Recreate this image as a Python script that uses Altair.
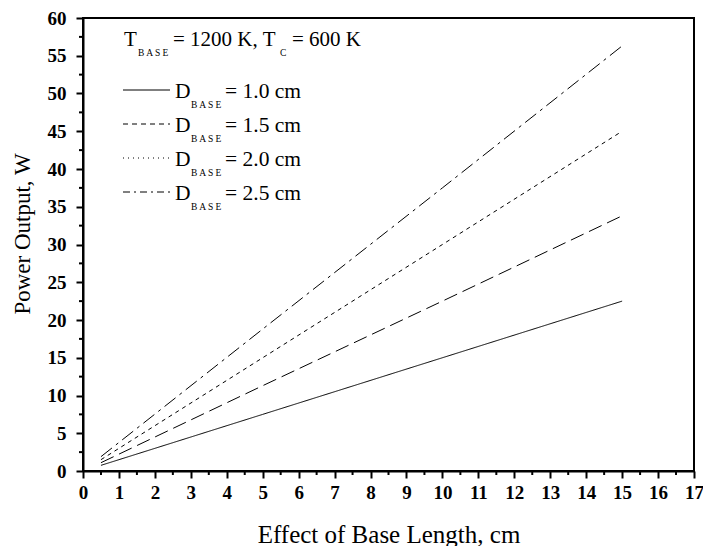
import altair as alt
import pandas as pd

# ---- data ----
lengths = [0.5, 5.0, 10.0, 15.0]
p_d10 = [0.75, 7.5, 15.0, 22.5]
p_d15 = [1.1, 11.3, 22.5, 33.8]
p_d20 = [1.5, 15.0, 30.0, 45.0]
p_d25 = [1.9, 18.8, 37.5, 56.3]
series_names = ["1.0 cm", "1.5 cm", "2.0 cm", "2.5 cm"]

x_ticks = [0, 1, 2, 3, 4, 5, 6, 7, 8, 9, 10, 11, 12, 13, 14, 15, 16, 17]
y_ticks = [0, 5, 10, 15, 20, 25, 30, 35, 40, 45, 50, 55, 60]
x_minor = [0.5, 1.5, 2.5, 3.5, 4.5, 5.5, 6.5, 7.5, 8.5, 9.5, 10.5, 11.5,
           12.5, 13.5, 14.5, 15.5, 16.5]
y_minor = [2.5, 7.5, 12.5, 17.5, 22.5, 27.5, 32.5, 37.5, 42.5, 47.5, 52.5, 57.5]

W, H = 611, 453
FONT = "Liberation Serif"

rows = []
for name, vals in zip(series_names, [p_d10, p_d15, p_d20, p_d25]):
    for L, P in zip(lengths, vals):
        rows.append({"series": name, "L": L, "P": P})
df = pd.DataFrame(rows)

x_scale = alt.Scale(domain=[0, 17], nice=False, zero=False)
y_scale = alt.Scale(domain=[0, 60], nice=False)

plot_dash = [[1, 0], [14, 6], [4, 4], [14, 5, 3, 5]]
legend_dash = [[1, 0], [5, 4], [1, 4], [7, 4, 2, 4]]

common_axis = dict(
    grid=False, labelFont=FONT, labelFontSize=19, labelFontWeight="bold",
    labelColor="black", tickSize=7, tickWidth=2, tickColor="black",
    domainColor="black", domainWidth=2, titleFont=FONT,
    titleFontWeight="normal", titleColor="black", labelFlush=False,
    labelOverlap=False,
)
x_axis = alt.Axis(values=x_ticks, title="Effect of Base Length, cm",
                  labelPadding=5, titleY=71, titleBaseline="alphabetic",
                  titleX=W / 2, titleAlign="center", titleFontSize=25,
                  **common_axis)
y_axis = alt.Axis(values=y_ticks, title="Power Output, W",
                  labelPadding=10, titleX=-54, titleY=215.5,
                  titleAngle=-90, titleAlign="center", titleFontSize=23,
                  titleBaseline="alphabetic", **common_axis)

lines = alt.Chart(df).mark_line(color="black", strokeWidth=1).encode(
    x=alt.X("L:Q", scale=x_scale, axis=x_axis),
    y=alt.Y("P:Q", scale=y_scale, axis=y_axis),
    strokeDash=alt.StrokeDash("series:N",
                              scale=alt.Scale(domain=series_names, range=plot_dash),
                              legend=None),
    detail="series:N",
)

xminor = alt.Chart(pd.DataFrame({"m": x_minor})).mark_rule(
    color="black", strokeWidth=2).encode(
    x=alt.X("m:Q", scale=x_scale, axis=x_axis),
    y=alt.value(H), y2=alt.value(H + 4),
)
yminor = alt.Chart(pd.DataFrame({"m": y_minor})).mark_rule(
    color="black", strokeWidth=2).encode(
    y=alt.Y("m:Q", scale=y_scale, axis=y_axis),
    x=alt.value(0), x2=alt.value(-4),
)


def txt(label, x, y, size):
    return alt.Chart(pd.DataFrame({"t": [label]})).mark_text(
        font=FONT, fontSize=size, color="black", align="left",
        baseline="alphabetic").encode(
        text="t:N", x=alt.value(x), y=alt.value(y))


layers = [lines, xminor, yminor]

# legend title: T_BASE = 1200 K, T_C = 600 K
layers += [
    txt("T", 41, 27.7, 21),
    txt("B A S E", 55, 37.5, 9.5),
    txt("= 1200 K, T", 90, 27.7, 21),
    txt("C", 197, 37.5, 9.5),
    txt("= 600 K", 209, 27.7, 21),
]

for i, name in enumerate(series_names):
    yl = 72 + 34 * i
    yb = 79.7 + 34 * i
    layers.append(
        alt.Chart(pd.DataFrame({"s": [name]})).mark_rule(
            color="black", strokeWidth=1, strokeDash=legend_dash[i]).encode(
            x=alt.value(40), x2=alt.value(87), y=alt.value(yl)))
    layers += [
        txt("D", 92, yb, 21.5),
        txt("B A S E", 108, yb + 10, 9.5),
        txt("= " + name, 142, yb, 21.5),
    ]

chart = alt.layer(*layers).properties(
    width=W, height=H, background="white",
    autosize=alt.AutoSizeParams(type="none"),
    padding={"left": 75, "top": 10, "right": 9, "bottom": 75},
).configure_view(stroke="black", strokeWidth=2)

chart.save("out.html", embed_options={"renderer": "svg", "actions": False})
